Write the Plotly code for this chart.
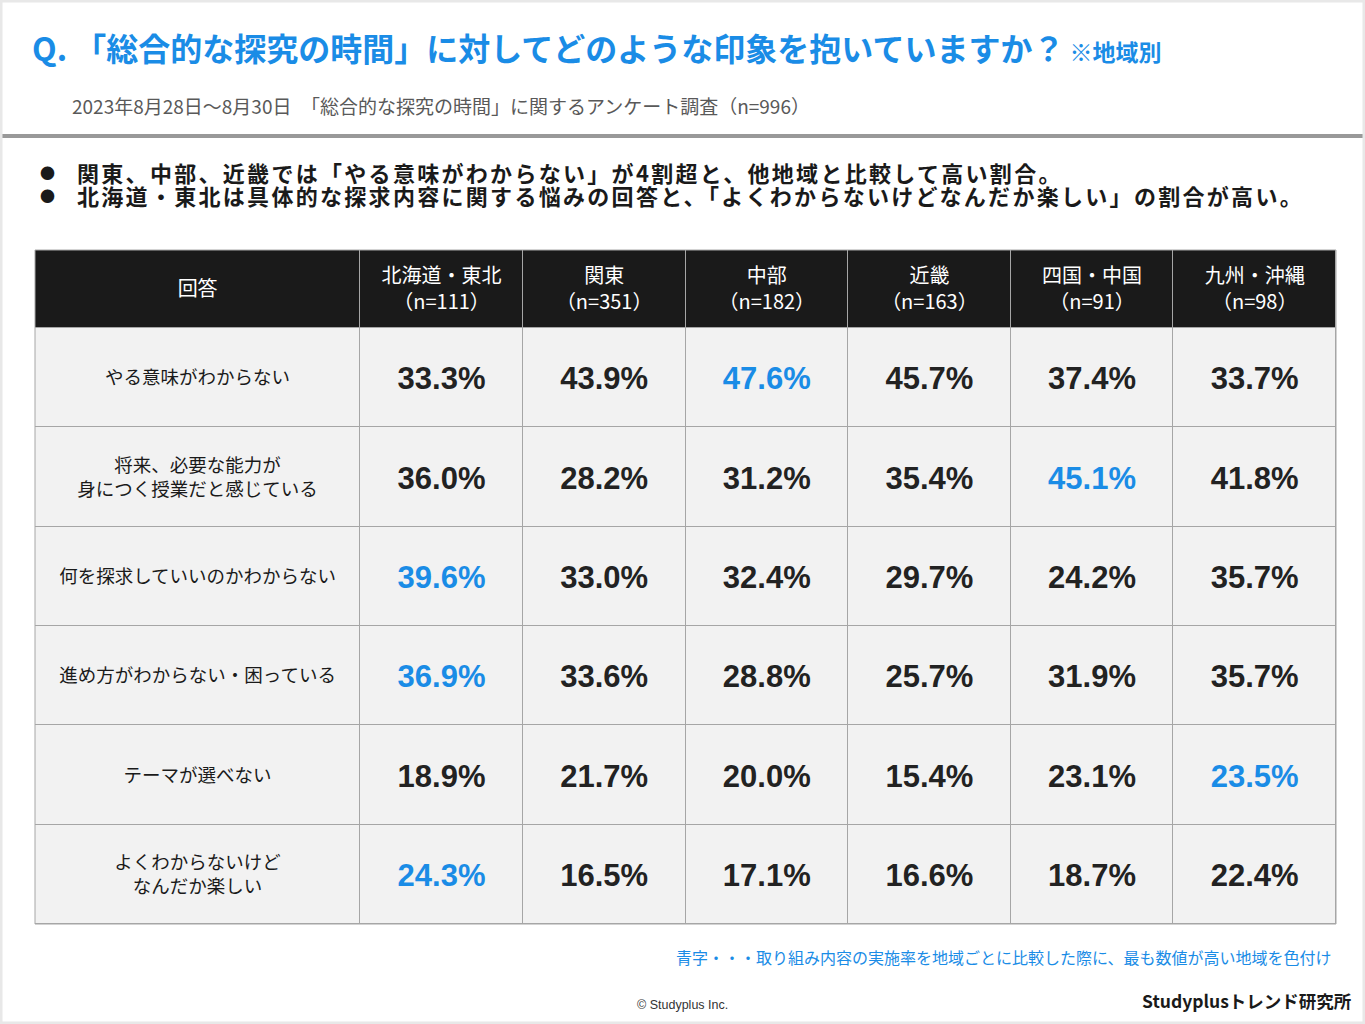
import plotly.graph_objects as go
import numpy as np

# ---------------- data ----------------
regions = ["北海道・東北", "関東", "中部", "近畿", "四国・中国", "九州・沖縄"]
region_n = [111, 351, 182, 163, 91, 98]
answers = [
    "やる意味がわからない",
    "将来、必要な能力が<br>身につく授業だと感じている",
    "何を探求していいのかわからない",
    "進め方がわからない・困っている",
    "テーマが選べない",
    "よくわからないけど<br>なんだか楽しい",
]
v_hokkaido = [33.3, 36.0, 39.6, 36.9, 18.9, 24.3]
v_kanto = [43.9, 28.2, 33.0, 33.6, 21.7, 16.5]
v_chubu = [47.6, 31.2, 32.4, 28.8, 20.0, 17.1]
v_kinki = [45.7, 35.4, 29.7, 25.7, 15.4, 16.6]
v_shikoku = [37.4, 45.1, 24.2, 31.9, 23.1, 18.7]
v_kyushu = [33.7, 41.8, 35.7, 35.7, 23.5, 22.4]
header_first = "回答"

# ---------------- style ----------------
W, H = 1365, 1024
BLUE = "#1a8ce6"
HEAD_BG = "#1a1a1a"
CELL_BG = "#f2f2f2"
GRID = "#a6a6a6"
JP = "Noto Sans CJK JP"
NUM = "Liberation Sans, Arial, sans-serif"

# table pixel box
TX0, TX1, TY0, TY1 = 35, 1336, 250, 924

values = np.array([v_hokkaido, v_kanto, v_chubu, v_kinki, v_shikoku, v_kyushu]).T  # rows x regions
n_rows, n_cols = values.shape

col_w = [2.0] + [1.0] * n_cols
x_edges = np.concatenate([[0], np.cumsum(col_w)])
x_cent = (x_edges[:-1] + x_edges[1:]) / 2
row_h = [0.785] + [1.0] * n_rows
y_edges = np.concatenate([[0], np.cumsum(row_h)])
y_cent = (y_edges[:-1] + y_edges[1:]) / 2

z = np.zeros((n_rows + 1, n_cols + 1))
z[0, :] = 1

fig = go.Figure()
fig.add_trace(go.Heatmap(
    x=x_edges, y=y_edges, z=z,
    colorscale=[[0, CELL_BG], [1, HEAD_BG]], zmin=0, zmax=1,
    showscale=False, xgap=1, ygap=1, hoverinfo="skip",
))

# header texts
hx = [x_cent[0]] + list(x_cent[1:])
ht = [header_first] + [f"{r}<br>（n={n}）" for r, n in zip(regions, region_n)]
fig.add_trace(go.Scatter(
    x=hx, y=[y_cent[0] + 0.02] * len(hx), text=ht, mode="text",
    textfont=dict(family=JP, size=20, color="#ffffff"),
    hoverinfo="skip", showlegend=False,
))

# answer labels
fig.add_trace(go.Scatter(
    x=[x_cent[0]] * n_rows, y=[c + 0.02 for c in y_cent[1:]], text=answers, mode="text",
    textfont=dict(family=JP, size=18.5, color="#1a1a1a"),
    hoverinfo="skip", showlegend=False,
))

# values
vx, vy, vt, vc = [], [], [], []
for i in range(n_rows):
    jmax = int(np.argmax(values[i]))
    for j in range(n_cols):
        vx.append(x_cent[j + 1])
        vy.append(y_cent[i + 1] + 0.04)
        vt.append(f"{values[i, j]:.1f}%")
        vc.append(BLUE if j == jmax else "#222222")
fig.add_trace(go.Scatter(
    x=vx, y=vy, text=vt, mode="text",
    textfont=dict(family=NUM, size=31, color=vc, weight="bold"),
    hoverinfo="skip", showlegend=False,
))

px = lambda p: p / W
py = lambda p: 1 - p / H

fig.update_layout(
    width=W, height=H,
    margin=dict(l=0, r=0, t=0, b=0),
    paper_bgcolor="#ffffff", plot_bgcolor=GRID,
    showlegend=False,
    xaxis=dict(domain=[px(TX0), px(TX1)], range=[x_edges[0], x_edges[-1]],
               visible=False, fixedrange=True),
    yaxis=dict(domain=[py(TY1), py(TY0)], range=[y_edges[-1], y_edges[0]],
               visible=False, fixedrange=True),
)

shapes = [
    dict(type="rect", xref="x domain", yref="y domain", x0=0, x1=1, y0=0, y1=1,
         line=dict(color=GRID, width=1)),
    dict(type="line", xref="paper", yref="paper", x0=0, x1=1, y0=py(136), y1=py(136),
         line=dict(color="#999999", width=4)),
    dict(type="rect", xref="paper", yref="paper", x0=0, x1=1, y0=0, y1=1,
         line=dict(color="#e8e8e8", width=5)),
]
fig.update_layout(shapes=shapes)

ann = []
def add(x, y, text, font, xanchor="left"):
    ann.append(dict(x=px(x), y=py(y), xref="paper", yref="paper",
                    xanchor=xanchor, yanchor="middle", text=text, font=font,
                    showarrow=False))

add(30, 47, "Q. 「総合的な探究の時間」に対してどのような印象を抱いていますか？"
            "<span style='font-size:23px'> ※地域別</span>",
    dict(family=JP, size=32, color=BLUE, weight="bold"))
add(70, 105, "2023年8月28日～8月30日　「総合的な探究の時間」に関するアンケート調査（n=996）",
    dict(family=JP, size=19, color="#595959"))
bullets = [
    "関東、中部、近畿では「やる意味がわからない」が4割超と、他地域と比較して高い割合。",
    "北海道・東北は具体的な探求内容に関する悩みの回答と、「よくわからないけどなんだか楽しい」の割合が高い。",
]
for k, b in enumerate(bullets):
    yy = 172 + 23 * k
    add(38, yy, "●", dict(family=JP, size=15, color="#1a1a1a"))
    add(75, yy, f"<span style='letter-spacing:2.3px'>{b}</span>",
        dict(family=JP, size=22, color="#1a1a1a", weight="bold"))
add(1334, 957, "青字・・・取り組み内容の実施率を地域ごとに比較した際に、最も数値が高い地域を色付け",
    dict(family=JP, size=16, color=BLUE), xanchor="right")
add(682, 1005, "© Studyplus Inc.",
    dict(family="Liberation Sans Narrow, Liberation Sans, Arial", size=12.5, color="#333333"),
    xanchor="center")
add(1353, 1000, "Studyplusトレンド研究所",
    dict(family=JP, size=17.5, color="#1a1a1a", weight="bold"), xanchor="right")
fig.update_layout(annotations=ann)

fig.write_html("out.html", config=dict(displayModeBar=False, staticPlot=True),
               post_script="document.body.style.margin='0';document.body.style.overflow='hidden';")
